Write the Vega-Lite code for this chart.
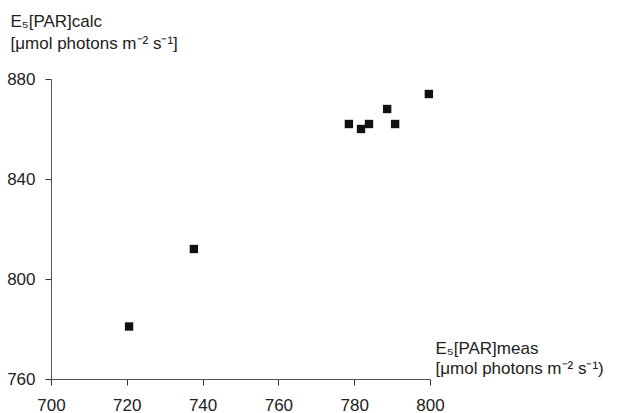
{
  "$schema": "https://vega.github.io/schema/vega-lite/v6.json",
  "width": 379,
  "height": 300,
  "autosize": {"type": "none"},
  "padding": {"left": 51, "top": 79, "right": 196, "bottom": 34},
  "background": "white",
  "config": {
    "view": {"stroke": null},
    "font": "Liberation Sans"
  },
  "data": {
    "values": [
      {"meas": 720.6, "calc": 781},
      {"meas": 737.7, "calc": 812},
      {"meas": 778.6, "calc": 862},
      {"meas": 781.8, "calc": 860},
      {"meas": 783.9, "calc": 862},
      {"meas": 788.7, "calc": 868},
      {"meas": 790.8, "calc": 862},
      {"meas": 799.7, "calc": 874}
    ]
  },
  "mark": {"type": "square", "filled": true, "color": "#111", "size": 70, "opacity": 1},
  "encoding": {
    "x": {
      "field": "meas",
      "type": "quantitative",
      "scale": {"domain": [700, 800], "nice": false, "zero": false},
      "axis": {
        "values": [700, 720, 740, 760, 780, 800],
        "grid": false,
        "labelFlush": false,
        "labelOverlap": false,
        "domainColor": "#555",
        "tickColor": "#333",
        "tickSize": 6,
        "labelFontSize": 17,
        "labelColor": "#222",
        "labelPadding": 12,
        "labelFont": "Liberation Sans",
        "title": ["E₅[PAR]meas", "[μmol photons m⁻² s⁻¹)"],
        "titleFont": "Liberation Sans",
        "titleFontSize": 17,
        "titleFontWeight": "normal",
        "titleColor": "#222",
        "titleAlign": "left",
        "titleBaseline": "top",
        "titleLineHeight": 20,
        "titleX": 384,
        "titleY": -39
      }
    },
    "y": {
      "field": "calc",
      "type": "quantitative",
      "scale": {"domain": [760, 880], "nice": false, "zero": false},
      "axis": {
        "values": [760, 800, 840, 880],
        "grid": false,
        "labelFlush": false,
        "labelOverlap": false,
        "domainColor": "#555",
        "tickColor": "#333",
        "tickSize": 6,
        "labelFontSize": 17,
        "labelColor": "#222",
        "labelPadding": 10,
        "labelFont": "Liberation Sans",
        "title": ["E₅[PAR]calc", "[μmol photons m⁻² s⁻¹]"],
        "titleFont": "Liberation Sans",
        "titleFontSize": 17,
        "titleFontWeight": "normal",
        "titleColor": "#222",
        "titleAngle": 0,
        "titleAlign": "left",
        "titleBaseline": "top",
        "titleLineHeight": 22,
        "titleX": -41,
        "titleY": -66
      }
    }
  }
}
